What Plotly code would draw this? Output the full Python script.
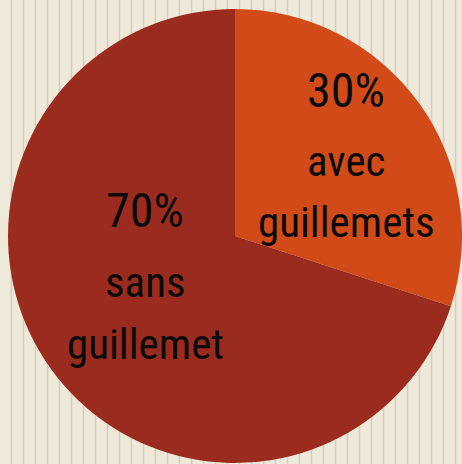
import plotly.graph_objects as go

# Data
labels = ["avec guillemets", "sans guillemet"]
values = [30, 70]
label_lines = [["avec", "guillemets"], ["sans", "guillemet"]]
colors = ["#D24A18", "#9B2B1F"]

W, H = 462, 464
BG = "#EFE9D9"
STRIPE = "#D3CFC8"
FONT = "Roboto Condensed, Liberation Sans Narrow, Arial Narrow, DejaVu Sans Condensed, sans-serif"

fig = go.Figure()
fig.add_trace(go.Pie(
    labels=labels,
    values=values,
    sort=False,
    direction="clockwise",
    rotation=0,
    marker=dict(colors=colors, line=dict(width=0)),
    textinfo="none",
    hoverinfo="label+percent",
    showlegend=False,
    domain=dict(x=[8 / W, 1.0], y=[0.0, 456 / H]),
))

# vertical stripes background
shapes = []
px = 11.5
while px < W:
    shapes.append(dict(type="line", xref="paper", yref="paper",
                       x0=px / W, x1=px / W, y0=0, y1=1,
                       line=dict(color=STRIPE, width=1.6), layer="below"))
    px += 12

# text labels: per slice, x centre and y centre of each line (pixels)
text_x = [346, 145]
text_y = [[91, 161, 222], [211, 282, 344]]
sizes = [48, 43, 43]
annotations = []
for v, lines, cx, ys in zip(values, label_lines, text_x, text_y):
    for txt, cy, sz in zip([f"{v}%"] + lines, ys, sizes):
        annotations.append(dict(
            x=cx / W, y=1 - cy / H, xref="paper", yref="paper",
            text=txt, showarrow=False, xanchor="center", yanchor="middle",
            align="center", font=dict(family=FONT, size=sz, color="#0A0A0A"),
        ))

fig.update_layout(
    width=W, height=H,
    margin=dict(l=0, r=0, t=0, b=0, pad=0),
    paper_bgcolor=BG, plot_bgcolor=BG,
    shapes=shapes, annotations=annotations,
)

fig.write_html("out.html", config={"displayModeBar": False},
               post_script="document.body.style.margin='0';document.body.style.padding='0';")
